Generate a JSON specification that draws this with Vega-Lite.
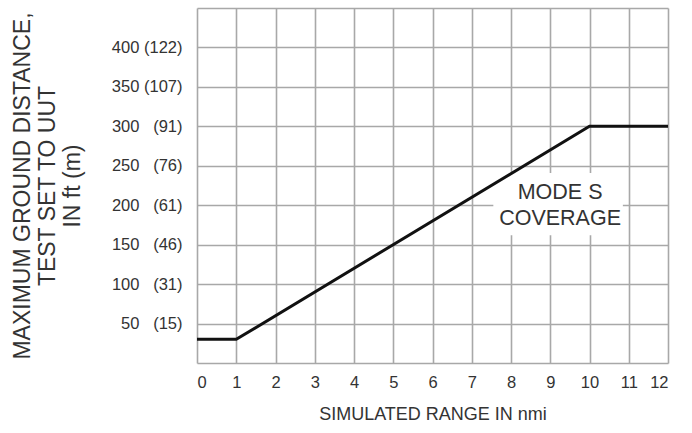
{
  "$schema": "https://vega.github.io/schema/vega-lite/v6.json",
  "width": 471,
  "height": 355,
  "autosize": "none",
  "padding": {"left": 197, "top": 8, "right": 24, "bottom": 70},
  "background": "white",
  "config": {
    "font": "Liberation Sans",
    "view": {"stroke": null},
    "axis": {
      "domain": false,
      "ticks": false,
      "grid": true,
      "gridColor": "#a8a8a8",
      "gridWidth": 1.6,
      "labelOverlap": false,
      "labelFont": "Liberation Sans",
      "labelFontSize": 16.5,
      "labelColor": "#333333",
      "titleFont": "Liberation Sans",
      "titleFontWeight": "normal",
      "titleColor": "#333333"
    }
  },
  "datasets": {
    "curve": [
      {"x": 0, "y": 30},
      {"x": 1, "y": 30},
      {"x": 10, "y": 300},
      {"x": 12, "y": 300}
    ],
    "note": [
      {"x": 9.25, "y": 216, "label": "MODE S"},
      {"x": 9.25, "y": 183, "label": "COVERAGE"}
    ],
    "notebox": [
      {"x": 7.55, "x2": 10.85, "y": 162, "y2": 241}
    ]
  },
  "encoding": {
    "x": {
      "field": "x",
      "type": "quantitative",
      "scale": {"domain": [0, 12], "nice": false, "zero": false},
      "axis": {
        "values": [0, 1, 2, 3, 4, 5, 6, 7, 8, 9, 10, 11, 12],
        "format": "d",
        "labelPadding": 11,
        "title": "SIMULATED RANGE IN nmi",
        "titleFontSize": 18,
        "titlePadding": 15
      }
    },
    "y": {
      "field": "y",
      "type": "quantitative",
      "scale": {"domain": [0, 450], "nice": false, "zero": false},
      "axis": {
        "values": [0, 50, 100, 150, 200, 250, 300, 350, 400, 450],
        "labelPadding": 15,
        "labelExpr": "datum.value == 50 ? '50\u00a0\u00a0\u00a0(15)' : datum.value == 100 ? '100\u00a0\u00a0\u00a0(31)' : datum.value == 150 ? '150\u00a0\u00a0\u00a0(46)' : datum.value == 200 ? '200\u00a0\u00a0\u00a0(61)' : datum.value == 250 ? '250\u00a0\u00a0\u00a0(76)' : datum.value == 300 ? '300\u00a0\u00a0\u00a0(91)' : datum.value == 350 ? '350 (107)' : datum.value == 400 ? '400 (122)' : ''",
        "title": ["MAXIMUM GROUND DISTANCE,", "TEST SET TO UUT", "IN ft (m)"],
        "titleFontSize": 23,
        "titleLineHeight": 25,
        "titlePadding": 27
      }
    }
  },
  "layer": [
    {
      "data": {"name": "notebox"},
      "mark": {"type": "rect", "fill": "white"},
      "encoding": {
        "x2": {"field": "x2"},
        "y2": {"field": "y2"}
      }
    },
    {
      "data": {"name": "curve"},
      "mark": {"type": "line", "color": "#111111", "strokeWidth": 3}
    },
    {
      "data": {"name": "note"},
      "mark": {"type": "text", "fontSize": 21.5, "color": "#333333", "font": "Liberation Sans"},
      "encoding": {
        "text": {"field": "label"}
      }
    }
  ]
}
